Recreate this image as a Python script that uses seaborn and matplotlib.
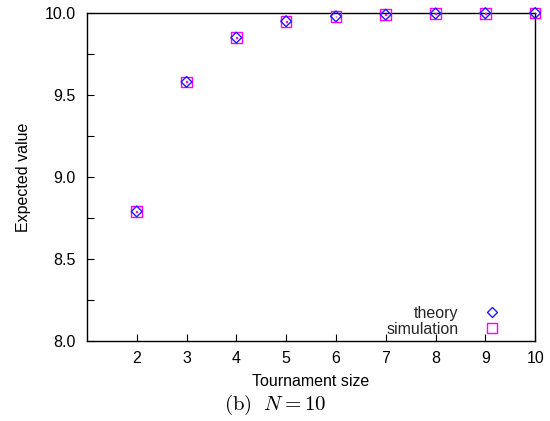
import numpy as np
import pandas as pd
import matplotlib
matplotlib.use("Agg")
import matplotlib.pyplot as plt
from matplotlib.path import Path
from matplotlib.lines import Line2D
from matplotlib.ticker import MultipleLocator, FormatStrFormatter
import seaborn as sns

# Expected best fitness vs tournament size, population N = 10
tournament_size = [2, 3, 4, 5, 6, 7, 8, 9, 10]
theory = [8.79, 9.58, 9.85, 9.95, 9.98, 9.99, 9.997, 9.999, 10.0]
simulation = [8.79, 9.58, 9.85, 9.95, 9.98, 9.99, 9.997, 9.999, 10.0]

sns.set_theme(style="white")
plt.rcParams["font.family"] = ["Liberation Sans", "DejaVu Sans"]
plt.rcParams["mathtext.fontset"] = "cm"

df = pd.DataFrame({
    "size": tournament_size * 2,
    "value": theory + simulation,
    "series": ["theory"] * len(theory) + ["simulation"] * len(simulation),
})

# gnuplot-style "dotted square": open square with a dot in the middle
d = 0.08
dotted_square = Path(
    [(-1, -1), (1, -1), (1, 1), (-1, 1), (-1, -1),
     (-d, -d), (d, -d), (d, d), (-d, d), (-d, -d)],
    [Path.MOVETO, Path.LINETO, Path.LINETO, Path.LINETO, Path.CLOSEPOLY,
     Path.MOVETO, Path.LINETO, Path.LINETO, Path.LINETO, Path.CLOSEPOLY],
)

blue = "#1a1aff"
magenta = "#ff00ff"
fs = 11.5

fig = plt.figure(figsize=(5.5, 4.21), dpi=100)
ax = fig.add_axes([0.158, 0.190, 0.815, 0.779])

sim = df[df["series"] == "simulation"]
thr = df[df["series"] == "theory"]
sns.scatterplot(data=sim, x="size", y="value", marker=dotted_square, s=58,
                facecolor="none", edgecolor=magenta, linewidth=1.0,
                ax=ax, clip_on=False, zorder=3, legend=False)
sns.scatterplot(data=thr, x="size", y="value", marker="D", s=30,
                facecolor="none", edgecolor=blue, linewidth=1.0,
                ax=ax, clip_on=False, zorder=4, legend=False)

ax.set_xlim(1, 10)
ax.set_ylim(8.0, 10.0)
ax.set_xticks(tournament_size)
ax.yaxis.set_major_locator(MultipleLocator(0.5))
ax.yaxis.set_minor_locator(MultipleLocator(0.25))
ax.yaxis.set_major_formatter(FormatStrFormatter("%.1f"))

for s in ax.spines.values():
    s.set_color("black")
    s.set_linewidth(1.0)
ax.tick_params(axis="both", which="both", direction="in", color="black",
               labelsize=fs, labelcolor="black", top=False, right=False,
               left=True, bottom=True)
ax.tick_params(which="major", length=5, width=0.8)
ax.tick_params(axis="y", which="major", pad=8)
ax.tick_params(axis="x", which="major", pad=7)
ax.tick_params(axis="y", which="minor", length=5, width=0.8)

ax.set_xlabel("Tournament size", fontsize=fs, color="black", labelpad=6)
ax.set_ylabel("Expected value", fontsize=fs, color="black", labelpad=10)

handles = [
    Line2D([], [], linestyle="none", marker="D", markersize=5.6,
           markerfacecolor="none", markeredgecolor=blue, markeredgewidth=1.0),
    Line2D([], [], linestyle="none", marker=dotted_square, markersize=7.6,
           markerfacecolor="none", markeredgecolor=magenta, markeredgewidth=1.0),
]
ax.legend(handles, ["theory", "simulation"], loc="lower right",
          bbox_to_anchor=(0.951, -0.026), frameon=False, markerfirst=False,
          fontsize=fs, handlelength=1.0, handletextpad=1.62,
          labelspacing=0.05, borderpad=0.3)

fig.text(0.5, 0.027, r"$\mathrm{(b)}\ \ N = 10$", ha="center", va="baseline",
         fontsize=15, color="black")

fig.savefig("out.png", dpi=100, facecolor="white")
